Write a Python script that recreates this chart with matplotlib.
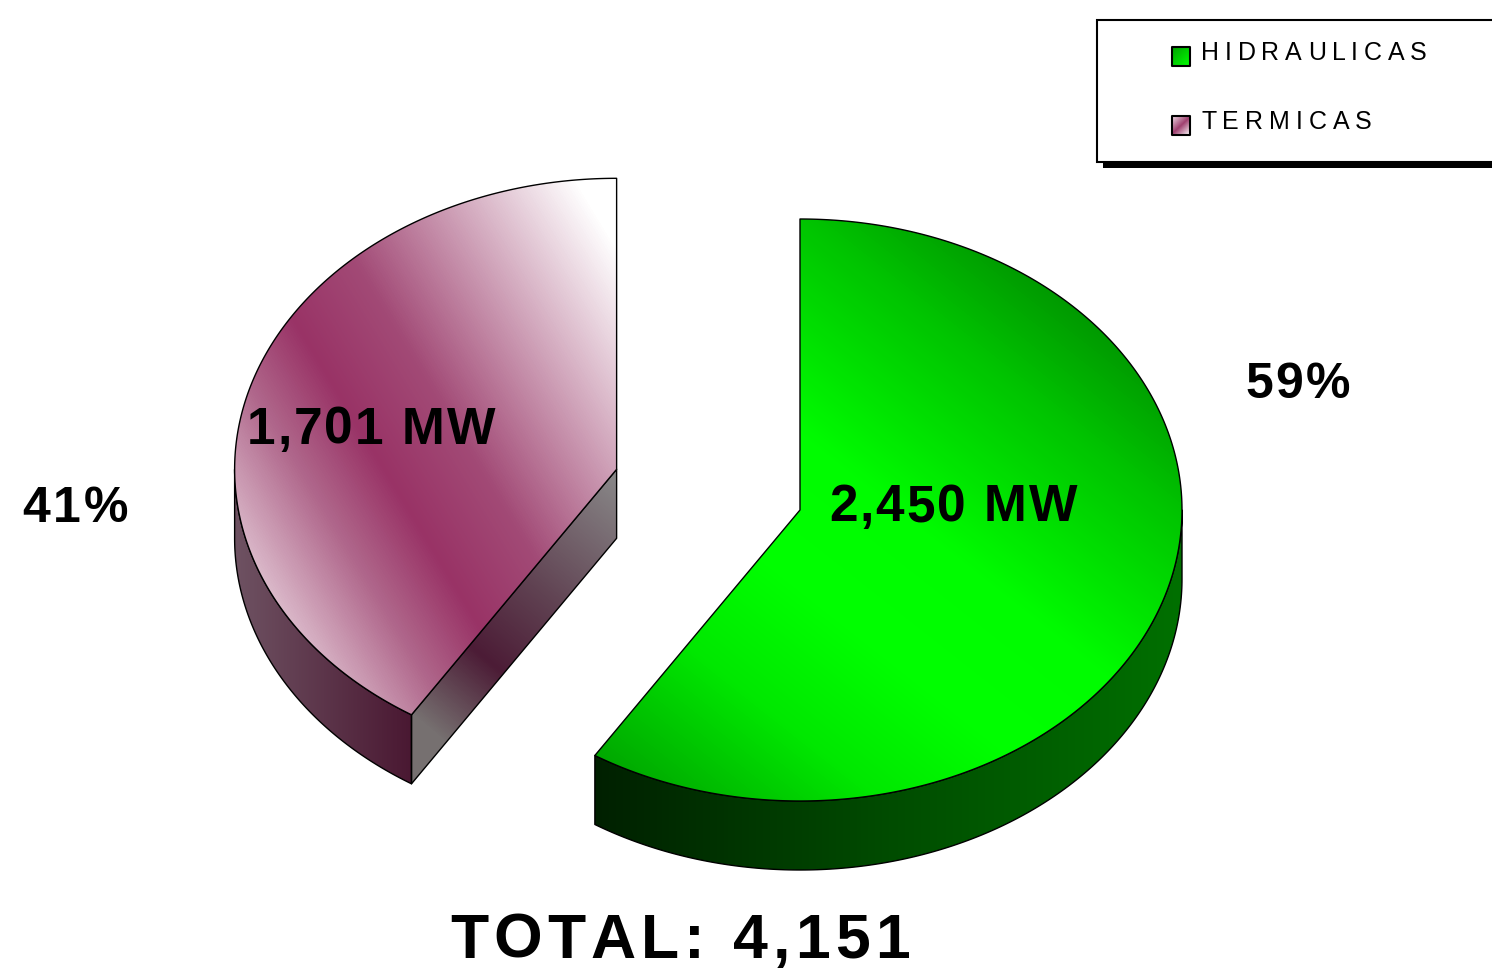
import numpy as np
import matplotlib
matplotlib.use("Agg")
import matplotlib.pyplot as plt
from matplotlib.patches import Polygon, Rectangle
from matplotlib.colors import LinearSegmentedColormap
from matplotlib.font_manager import FontProperties

# data
categories = ["HIDRAULICAS", "TERMICAS"]
capacity_mw = [2450, 1701]
explode = [0.0, 0.5]

# layout (pixels, y downwards)
W, H = 1492, 971
CX, CY = 800, 510          # centre of the first slice's top face
RX, RY, DEPTH = 382, 291, 69
FONT = "Liberation Sans"

# top-face shading: direction (lower-left -> upper-right), start/end offsets
# along it from the slice centre, colour stops
top_shade = [
    ((0.62, -0.785), (-320, 360),
     [(0, "#00a800"), (0.21, "#00e800"), (0.38, "#00ff00"), (0.56, "#00fc00"),
      (0.81, "#00c400"), (1, "#008c00")]),
    ((0.855, -0.518), (-410, 115),
     [(0, "#f2e6ec"), (0.26, "#b0688c"), (0.40, "#993366"),
      (0.56, "#a24a76"), (1, "#ffffff")]),
]
side_shade = [
    [(0, "#002000"), (0.5, "#004c00"), (1, "#007000")],
    [(0, "#6e5262"), (1, "#4a1832")],
]
cut_shade = [
    [(0, "#005a00"), (1, "#003000")],
    [(0, "#8a8a8a"), (0.45, "#604252"), (0.72, "#4c1c36"), (1, "#767070")],
]
legend_shade = [
    [(0, "#00a000"), (1, "#00ff00")],
    [(0, "#f0e0e8"), (0.5, "#a04070"), (1, "#ffffff")],
]


def ell(c, th, dz=0.0):
    th = np.radians(th)
    return np.column_stack([c[0] + RX * np.cos(th), c[1] - RY * np.sin(th) + dz])


def grad_fill(ax, verts, p0, p1, stops, z, lw=1.0):
    verts = np.asarray(verts, float)
    x0, y0 = np.floor(verts.min(0)).astype(int)
    x1, y1 = np.ceil(verts.max(0)).astype(int)
    X, Y = np.meshgrid(np.arange(x0, x1 + 1), np.arange(y0, y1 + 1))
    p0 = np.asarray(p0, float); d = np.asarray(p1, float) - p0
    t = ((X - p0[0]) * d[0] + (Y - p0[1]) * d[1]) / (d @ d)
    cmap = LinearSegmentedColormap.from_list("g", stops)
    poly = Polygon(verts, closed=True, facecolor="none", edgecolor="black",
                   lw=lw, zorder=z + 0.5, joinstyle="round")
    ax.add_patch(poly)
    im = ax.imshow(cmap(np.clip(t, 0, 1)), extent=(x0 - .5, x1 + .5, y1 + .5, y0 - .5),
                   origin="upper", interpolation="bilinear", zorder=z, aspect="auto")
    im.set_clip_path(poly)


def spaced(ax, x, y, s, width, size, weight="bold"):
    # letter-spaced text, stretched so it covers `width` pixels
    prop = FontProperties(family=FONT, weight=weight, size=size)
    r = ax.figure.canvas.get_renderer()
    ws = [0.28 * size * 100 / 72 if ch == " " else
          r.get_text_width_height_descent(ch, prop, ismath=False)[0] for ch in s]
    gap = (width - sum(ws)) / (len(s) - 1)
    for ch, w in zip(s, ws):
        ax.text(x, y, ch, fontproperties=prop, ha="left", va="baseline", zorder=20)
        x += w + gap


fig = plt.figure(figsize=(W / 100, H / 100), dpi=100)
ax = fig.add_axes([0, 0, 1, 1])
ax.set_xlim(0, W); ax.set_ylim(H, 0); ax.axis("off")

total = sum(capacity_mw)
fracs = [v / total for v in capacity_mw]
slices = []
a1 = 90.0
for i, f in enumerate(fracs):
    a0 = a1 - 360 * f
    mid = np.radians((a0 + a1) / 2)
    c = (CX + explode[i] * RX * np.cos(mid), CY - explode[i] * RY * np.sin(mid))
    slices.append((a0, a1, c))
    a1 = a0

# back slices first
order = sorted(range(len(slices)), key=lambda i: slices[i][2][1])
for k, i in enumerate(order):
    a0, a1, c = slices[i]
    z = 2 + 3 * k
    # curved side wall (front half only)
    for w0, w1 in [(-540, -360), (-180, 0), (180, 360)]:
        lo, hi = max(a0, w0), min(a1, w1)
        if hi - lo > 0.5:
            th = np.linspace(lo, hi, 200)
            wall = np.vstack([ell(c, th), ell(c, th[::-1], DEPTH)])
            grad_fill(ax, wall, (wall[:, 0].min(), 0), (wall[:, 0].max(), 0),
                      side_shade[i], z)
    # flat cut faces that look towards the viewer
    for a, nrm in [(a0, a0 - 90), (a1, a1 + 90)]:
        if np.sin(np.radians(nrm)) < -1e-6:
            p = ell(c, [a])[0]
            face = [c, p, (p[0], p[1] + DEPTH), (c[0], c[1] + DEPTH)]
            grad_fill(ax, face, c, p, cut_shade[i], z)
    # top face
    th = np.linspace(a1, a0, 400)
    top = np.vstack([[c], ell(c, th)])
    u, (s0, s1), stops = top_shade[i]
    u = np.array(u); c = np.array(c)
    grad_fill(ax, top, c + s0 * u, c + s1 * u, stops, z + 1)

# labels
val_lbl = [f"{v:,} MW" for v in capacity_mw]
pct_lbl = [f"{round(100 * f)}%" for f in fracs]
spaced(ax, 829, 521, val_lbl[0], 248, 37)
spaced(ax, 247, 444, val_lbl[1], 248, 37)
spaced(ax, 1245, 398, pct_lbl[0], 105, 36)
spaced(ax, 22, 522, pct_lbl[1], 106, 36)
spaced(ax, 450, 958, f"TOTAL: {total:,}", 460, 45)

# legend box with drop shadow
ax.add_patch(Rectangle((1103, 26), 500, 142, facecolor="black", zorder=10))
ax.add_patch(Rectangle((1097, 20), 500, 142, facecolor="white",
                       edgecolor="black", lw=1.5, zorder=11))
for i, (name, ytxt, wtxt) in enumerate(zip(categories, [60, 129], [226, 171])):
    sq = [(1172, ytxt - 13), (1190, ytxt - 13), (1190, ytxt + 6), (1172, ytxt + 6)]
    grad_fill(ax, sq, sq[0], sq[2], legend_shade[i], 12, lw=1.5)
    spaced(ax, 1201, ytxt, name, wtxt, 18, weight="normal")

fig.savefig("out.png", dpi=100)
